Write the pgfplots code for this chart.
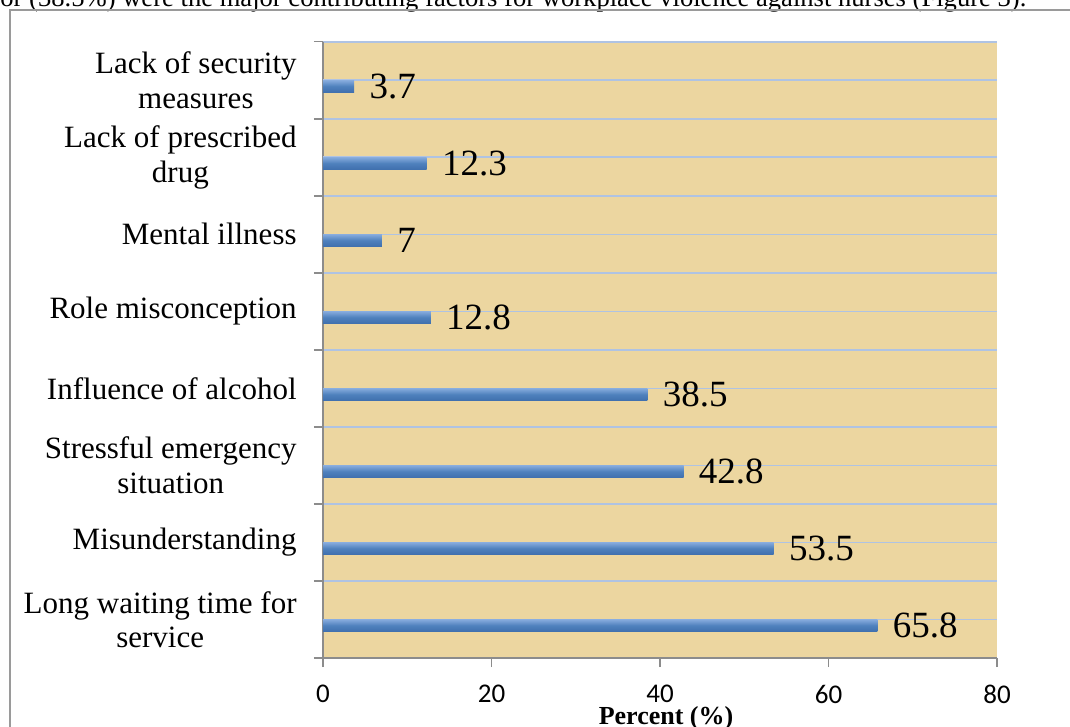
\documentclass[border=0pt]{standalone}
\usepackage{pgfplots}
\pgfplotsset{compat=1.18}
\usepackage{fontspec}
\setmainfont{Liberation Serif}
\newfontfamily\calibri{Carlito}
\definecolor{papyrus}{HTML}{ECD6A0}
\definecolor{gridblue}{HTML}{AFC3E3}
\definecolor{barmid}{HTML}{4F81BD}
\definecolor{barlight}{HTML}{86ABDD}
\definecolor{bardark}{HTML}{4070AE}
\definecolor{axgray}{HTML}{8C8C8C}
\definecolor{framegray}{HTML}{9A9A9A}
\begin{document}
\begin{tikzpicture}
\useasboundingbox (0,0) rectangle (535pt,-363.5pt);
\clip (0,0) rectangle (535pt,-363.5pt);
\begin{scope}[x=0.5pt,y=-0.5pt]
\node[anchor=base west, inner sep=0pt, font=\fontsize{13.3}{15}\selectfont] at (0,6.5) {or (38.5\%) were the major contributing factors for workplace violence against nurses (Figure 3).};
\draw[framegray, line width=0.9pt] (1090,10) -- (10,10) -- (10,760);
\end{scope}
\begin{axis}[
  at={(161.5pt,-329pt)}, anchor=south west,
  scale only axis, width=337pt, height=308.15pt,
  xmin=0, xmax=80, ymin=-0.5, ymax=7.5,
  xbar, bar width=6pt, bar shift=-3pt,
  axis x line*=bottom, axis y line*=left,
  axis line style={axgray, line width=0.75pt, -},
  axis background/.style={fill=papyrus},
  tick align=outside, major tick length=4.5pt,
  tick style={axgray, line width=0.75pt},
  xtick={0,20,40,60,80},
  xticklabel style={font=\calibri\fontsize{13.5}{15}\selectfont, inner sep=0pt, yshift=-9pt},
  /pgf/number format/assume math mode=true,
  ytick={-0.5,0.5,1.5,2.5,3.5,4.5,5.5,6.5,7.5}, yticklabels={},
  ymajorgrids, grid style={gridblue, line width=0.8pt},
  extra y ticks={0,1,2,3,4,5,6,7},
  extra y tick labels={{Long waiting time for\\service}, Misunderstanding, {Stressful emergency\\situation}, {Influence of alcohol}, {Role misconception}, {Mental illness}, {Lack of prescribed\\drug}, {Lack of security\\measures}},
  extra y tick style={major tick length=0pt, grid=major, yticklabel style={align=center, font=\fontsize{15.5}{17.2}\selectfont, inner sep=0pt, xshift=-13pt}},
  nodes near coords, point meta=explicit symbolic,
  every node near coord/.append style={anchor=west, inner sep=0pt, xshift=7.5pt, font=\fontsize{18.5}{20}\selectfont, black},
  xlabel={\textbf{Percent (\%)}},
  every axis x label/.style={at={(axis description cs:0.509,0)}, anchor=base, yshift=-33pt, font=\fontsize{13}{15}\selectfont},
  clip=false,
  barstyle/.style={draw=none, top color=barlight, bottom color=bardark, middle color=barmid},
]
\addplot[barstyle] coordinates {(65.8,0) [65.8]};
\addplot[barstyle] coordinates {(53.5,1) [53.5]};
\addplot[barstyle] coordinates {(42.8,2) [42.8]};
\addplot[barstyle] coordinates {(38.5,3) [38.5]};
\addplot[barstyle] coordinates {(12.8,4) [12.8]};
\addplot[barstyle] coordinates {(7,5) [7]};
\addplot[barstyle] coordinates {(12.3,6) [12.3]};
\addplot[barstyle] coordinates {(3.7,7) [3.7]};
\end{axis}
\end{tikzpicture}
\end{document}
